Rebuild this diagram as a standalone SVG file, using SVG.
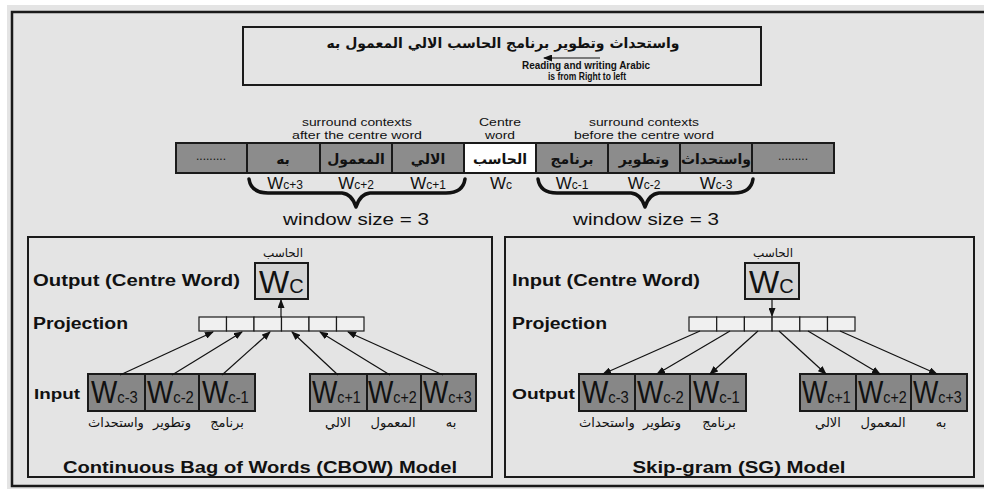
<svg xmlns="http://www.w3.org/2000/svg" width="984" height="489" viewBox="0 0 984 489">
<style>
.lat{font-family:"Liberation Sans",Arial,sans-serif;fill:#111}
.b{font-weight:bold}
.ar{font-family:"DejaVu Sans",sans-serif;fill:#111}
.cell{fill:#8c8c8c;stroke:#1a1a1a;stroke-width:2}
.wcell{fill:#ffffff;stroke:#1a1a1a;stroke-width:2}
.wbox{fill:#878787;stroke:#1a1a1a;stroke-width:2}
.topbox{fill:#d4d4d4;stroke:#1a1a1a;stroke-width:2}
.proj{fill:#f0f0f0;stroke:#1a1a1a;stroke-width:1.2}
.panel{fill:none;stroke:#1a1a1a;stroke-width:2}
.brace{fill:none;stroke:#111;stroke-width:3.5;stroke-linecap:round;stroke-linejoin:round}
.con{stroke:#111;stroke-width:1.2;fill:none}
.wl{font-family:"Liberation Sans",Arial,sans-serif;fill:#111;font-size:32px}
.wl tspan{font-size:17px}
</style>
<defs>
<marker id="ah" markerUnits="userSpaceOnUse" markerWidth="9" markerHeight="7" refX="8" refY="3.5" orient="auto">
<path d="M0,0 L9,3.5 L0,7 z" fill="#111"/>
</marker>
</defs>
<rect x="0" y="0" width="984" height="489" fill="#ffffff"/>
<rect x="7" y="5" width="977" height="484" fill="#e4e4e4"/>
<rect x="12" y="12" width="990" height="474" fill="none" stroke="#1a1a1a" stroke-width="2.5"/>

<g id="sentence">
<rect x="243" y="27" width="518" height="58" fill="none" stroke="#1a1a1a" stroke-width="2"/>
<text class="ar b" x="503" y="48" font-size="14" text-anchor="middle">واستحداث وتطوير برنامج الحاسب الالي المعمول به</text>
<line class="con" x1="600" y1="58" x2="544" y2="58" marker-end="url(#ah)"/>
<text class="lat b" x="586" y="69" font-size="10.5" text-anchor="middle" textLength="128" lengthAdjust="spacingAndGlyphs">Reading and writing Arabic</text>
<text class="lat b" x="587" y="80" font-size="10.5" text-anchor="middle" textLength="78" lengthAdjust="spacingAndGlyphs">is from Right to left</text>
</g>

<g id="sequence">
<text class="lat" x="357" y="126" font-size="11" text-anchor="middle" textLength="110" lengthAdjust="spacingAndGlyphs">surround contexts</text>
<text class="lat" x="357" y="139" font-size="11" text-anchor="middle" textLength="130" lengthAdjust="spacingAndGlyphs">after the centre word</text>
<text class="lat" x="500" y="126" font-size="11" text-anchor="middle" textLength="42" lengthAdjust="spacingAndGlyphs">Centre</text>
<text class="lat" x="500" y="139" font-size="11" text-anchor="middle" textLength="30" lengthAdjust="spacingAndGlyphs">word</text>
<text class="lat" x="644" y="126" font-size="11" text-anchor="middle" textLength="110" lengthAdjust="spacingAndGlyphs">surround contexts</text>
<text class="lat" x="644" y="139" font-size="11" text-anchor="middle" textLength="140" lengthAdjust="spacingAndGlyphs">before the centre word</text>
<rect class="cell" x="176" y="143" width="71" height="30"/>
<rect class="cell" x="247" y="143" width="73" height="30"/>
<rect class="cell" x="320" y="143" width="72" height="30"/>
<rect class="cell" x="392" y="143" width="72" height="30"/>
<rect class="wcell" x="464" y="143" width="72" height="30"/>
<rect class="cell" x="536" y="143" width="72" height="30"/>
<rect class="cell" x="608" y="143" width="72" height="30"/>
<rect class="cell" x="680" y="143" width="72" height="30"/>
<rect class="cell" x="752" y="143" width="82" height="30"/>
<text class="lat" x="211" y="160" font-size="12" text-anchor="middle">.........</text>
<text class="lat" x="793" y="160" font-size="12" text-anchor="middle">.........</text>
<text class="ar b" x="283" y="164" font-size="14" text-anchor="middle">به</text>
<text class="ar b" x="356" y="164" font-size="14" text-anchor="middle">المعمول</text>
<text class="ar b" x="428" y="164" font-size="14" text-anchor="middle">الالي</text>
<text class="ar b" x="500" y="164" font-size="14" text-anchor="middle">الحاسب</text>
<text class="ar b" x="572" y="164" font-size="14" text-anchor="middle">برنامج</text>
<text class="ar b" x="644" y="164" font-size="14" text-anchor="middle">وتطوير</text>
<text class="ar b" x="716" y="164" font-size="14" text-anchor="middle">واستحداث</text>
<text class="lat" x="285" y="189" font-size="17" text-anchor="middle">W<tspan font-size="12">c+3</tspan></text>
<text class="lat" x="356" y="189" font-size="17" text-anchor="middle">W<tspan font-size="12">c+2</tspan></text>
<text class="lat" x="428" y="189" font-size="17" text-anchor="middle">W<tspan font-size="12">c+1</tspan></text>
<text class="lat" x="501" y="189" font-size="17" text-anchor="middle">W<tspan font-size="12">c</tspan></text>
<text class="lat" x="572" y="189" font-size="17" text-anchor="middle">W<tspan font-size="12">c-1</tspan></text>
<text class="lat" x="644" y="189" font-size="17" text-anchor="middle">W<tspan font-size="12">c-2</tspan></text>
<text class="lat" x="716" y="189" font-size="17" text-anchor="middle">W<tspan font-size="12">c-3</tspan></text>
<path class="brace" d="M249,179 Q251,193 268,193 L342,193 Q352,194 356,207 Q360,194 370,193 L446,193 Q463,193 465,179"/>
<path class="brace" d="M538,179 Q540,193 557,193 L631,193 Q641,194 645,207 Q649,194 659,193 L734,193 Q751,193 753,179"/>
<text class="lat" x="356" y="225" font-size="17" text-anchor="middle" textLength="146" lengthAdjust="spacingAndGlyphs">window size = 3</text>
<text class="lat" x="646" y="225" font-size="17" text-anchor="middle" textLength="146" lengthAdjust="spacingAndGlyphs">window size = 3</text>
</g>

<g id="cbow">
<rect class="panel" x="28" y="237" width="464" height="240"/>
<text class="ar" x="283" y="257" font-size="12" text-anchor="middle">الحاسب</text>
<rect class="topbox" x="255" y="263" width="53" height="36"/>
<text class="lat" x="259" y="293" font-size="32">W<tspan font-size="20">C</tspan></text>
<text class="lat b" x="33" y="286" font-size="16" textLength="207" lengthAdjust="spacingAndGlyphs">Output (Centre Word)</text>
<text class="lat b" x="33" y="329" font-size="16" textLength="95" lengthAdjust="spacingAndGlyphs">Projection</text>
<rect class="proj" x="199" y="317" width="27.5" height="14"/>
<rect class="proj" x="226.5" y="317" width="27.5" height="14"/>
<rect class="proj" x="254" y="317" width="27.5" height="14"/>
<rect class="proj" x="281.5" y="317" width="27.5" height="14"/>
<rect class="proj" x="309" y="317" width="27.5" height="14"/>
<rect class="proj" x="336.5" y="317" width="27.5" height="14"/>
<text class="lat b" x="34" y="399" font-size="15" textLength="46" lengthAdjust="spacingAndGlyphs">Input</text>
<rect class="wbox" x="88" y="374" width="57" height="37"/>
<rect class="wbox" x="145" y="374" width="54" height="37"/>
<rect class="wbox" x="199" y="374" width="56" height="37"/>
<rect class="wbox" x="310" y="374" width="57" height="37"/>
<rect class="wbox" x="367" y="374" width="54" height="37"/>
<rect class="wbox" x="421" y="374" width="55" height="37"/>
<text class="wl" transform="translate(91,403) scale(0.87,1)">W<tspan>c-3</tspan></text>
<text class="wl" transform="translate(147,403) scale(0.87,1)">W<tspan>c-2</tspan></text>
<text class="wl" transform="translate(202,403) scale(0.87,1)">W<tspan>c-1</tspan></text>
<text class="wl" transform="translate(312,403) scale(0.84,1)">W<tspan>c+1</tspan></text>
<text class="wl" transform="translate(368,403) scale(0.84,1)">W<tspan>c+2</tspan></text>
<text class="wl" transform="translate(423,403) scale(0.84,1)">W<tspan>c+3</tspan></text>
<text class="ar" x="116" y="427" font-size="13" text-anchor="middle">واستحداث</text>
<text class="ar" x="172" y="427" font-size="13" text-anchor="middle">وتطوير</text>
<text class="ar" x="227" y="427" font-size="13" text-anchor="middle">برنامج</text>
<text class="ar" x="338" y="427" font-size="13" text-anchor="middle">الالي</text>
<text class="ar" x="393" y="427" font-size="13" text-anchor="middle">المعمول</text>
<text class="ar" x="451" y="427" font-size="13" text-anchor="middle">به</text>
<text class="lat b" x="260" y="473" font-size="16" text-anchor="middle" textLength="394" lengthAdjust="spacingAndGlyphs">Continuous Bag of Words (CBOW) Model</text>
</g>

<g id="skipgram">
<rect class="panel" x="505" y="237" width="469" height="240"/>
<text class="ar" x="773" y="257" font-size="12" text-anchor="middle">الحاسب</text>
<rect class="topbox" x="745" y="263" width="54" height="36"/>
<text class="lat" x="749" y="293" font-size="32">W<tspan font-size="20">C</tspan></text>
<text class="lat b" x="512" y="286" font-size="16" textLength="188" lengthAdjust="spacingAndGlyphs">Input (Centre Word)</text>
<text class="lat b" x="512" y="329" font-size="16" textLength="95" lengthAdjust="spacingAndGlyphs">Projection</text>
<rect class="proj" x="689" y="317" width="27.7" height="14"/>
<rect class="proj" x="716.7" y="317" width="27.7" height="14"/>
<rect class="proj" x="744.4" y="317" width="27.7" height="14"/>
<rect class="proj" x="772.1" y="317" width="27.7" height="14"/>
<rect class="proj" x="799.8" y="317" width="27.7" height="14"/>
<rect class="proj" x="827.5" y="317" width="27.5" height="14"/>
<text class="lat b" x="512" y="399" font-size="15" textLength="63" lengthAdjust="spacingAndGlyphs">Output</text>
<rect class="wbox" x="579" y="374" width="56" height="37"/>
<rect class="wbox" x="635" y="374" width="55" height="37"/>
<rect class="wbox" x="690" y="374" width="56" height="37"/>
<rect class="wbox" x="800" y="374" width="56" height="37"/>
<rect class="wbox" x="856" y="374" width="55" height="37"/>
<rect class="wbox" x="911" y="374" width="56" height="37"/>
<text class="wl" transform="translate(582,403) scale(0.87,1)">W<tspan>c-3</tspan></text>
<text class="wl" transform="translate(637,403) scale(0.87,1)">W<tspan>c-2</tspan></text>
<text class="wl" transform="translate(693,403) scale(0.87,1)">W<tspan>c-1</tspan></text>
<text class="wl" transform="translate(802,403) scale(0.84,1)">W<tspan>c+1</tspan></text>
<text class="wl" transform="translate(858,403) scale(0.84,1)">W<tspan>c+2</tspan></text>
<text class="wl" transform="translate(913,403) scale(0.84,1)">W<tspan>c+3</tspan></text>
<text class="ar" x="607" y="427" font-size="13" text-anchor="middle">واستحداث</text>
<text class="ar" x="662" y="427" font-size="13" text-anchor="middle">وتطوير</text>
<text class="ar" x="719" y="427" font-size="13" text-anchor="middle">برنامج</text>
<text class="ar" x="828" y="427" font-size="13" text-anchor="middle">الالي</text>
<text class="ar" x="883" y="427" font-size="13" text-anchor="middle">المعمول</text>
<text class="ar" x="941" y="427" font-size="13" text-anchor="middle">به</text>
<text class="lat b" x="739" y="473" font-size="16" text-anchor="middle" textLength="213" lengthAdjust="spacingAndGlyphs">Skip-gram (SG) Model</text>
</g>

<g id="connectors">
<line class="con" x1="281" y1="317" x2="281" y2="300" marker-end="url(#ah)"/>
<line class="con" x1="120" y1="375" x2="213" y2="332" marker-end="url(#ah)"/>
<line class="con" x1="172" y1="375" x2="242" y2="332" marker-end="url(#ah)"/>
<line class="con" x1="222" y1="375" x2="270" y2="332" marker-end="url(#ah)"/>
<line class="con" x1="338" y1="375" x2="292" y2="332" marker-end="url(#ah)"/>
<line class="con" x1="390" y1="375" x2="320" y2="332" marker-end="url(#ah)"/>
<line class="con" x1="443" y1="375" x2="348" y2="332" marker-end="url(#ah)"/>
<line class="con" x1="772" y1="299" x2="772" y2="316" marker-end="url(#ah)"/>
<line class="con" x1="700" y1="331" x2="603" y2="374" marker-end="url(#ah)"/>
<line class="con" x1="730" y1="331" x2="657" y2="374" marker-end="url(#ah)"/>
<line class="con" x1="758" y1="331" x2="710" y2="374" marker-end="url(#ah)"/>
<line class="con" x1="779" y1="331" x2="826" y2="374" marker-end="url(#ah)"/>
<line class="con" x1="808" y1="331" x2="880" y2="374" marker-end="url(#ah)"/>
<line class="con" x1="840" y1="331" x2="937" y2="374" marker-end="url(#ah)"/>
</g>
</svg>
